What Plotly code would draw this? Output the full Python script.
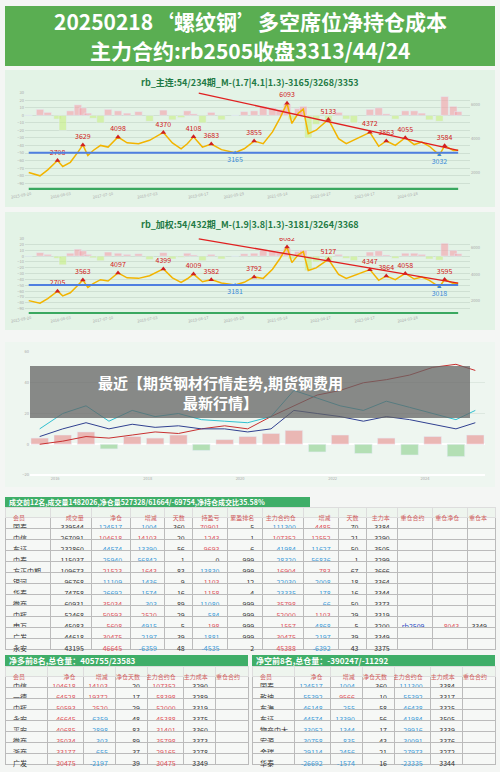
import plotly.graph_objects as go

W, H = 500, 772
def fy(px): return 1 - px / H
def fx(px): return px / W

# ---------- chart 1 data ----------
c1_dates = ["2015-09-01","2015-12-01","2016-02-01","2016-04-20","2016-06-01","2016-08-01","2016-10-01","2016-11-10","2016-12-20",
            "2017-02-01","2017-04-01","2017-06-01","2017-08-20","2017-11-01","2018-02-01","2018-05-01","2018-08-20","2018-11-01",
            "2019-01-10","2019-03-01","2019-04-20","2019-07-01","2019-09-10","2019-12-01","2020-03-20","2020-06-01","2020-08-20",
            "2020-11-01","2021-01-15","2021-03-15","2021-05-12","2021-06-20","2021-08-10","2021-09-20","2021-10-30","2022-01-01",
            "2022-04-10","2022-07-01","2022-09-01","2022-11-01","2023-03-10","2023-05-20","2023-07-20","2023-10-01","2023-12-20",
            "2024-03-01","2024-05-01","2024-07-01","2024-09-20","2024-11-01","2025-01-10","2025-02-18"]
c1_price = [2000,1800,2150,2708,2350,2600,3200,3629,3000,3300,3600,3500,4098,3750,3700,3900,4370,3750,3400,3700,4108,3500,3683,3350,3165,3400,3855,3700,4400,5200,6093,4900,5500,5750,4300,4500,
            5133,4000,3700,3900,4372,3550,3863,3600,4055,3650,3800,3550,3032,3584,3300,3313]
c1_flow = [0,8,4,-5,-20,6,14,10,3,-4,-10,8,6,3,5,-8,7,-6,-3,6,2,-10,4,-6,0,5,6,12,10,8,15,-6,9,12,-30,-12,
           -8,4,-5,-10,8,10,2,-5,6,6,3,-6,-8,25,12,5]
c1_peak_idx = [3,7,12,16,20,22,26,30,36,40,42,44,49]
c1_low_idx = [24,48]
c1_title = "rb_主连:54/234期_M-(1.7|4.1|1.3)-3165/3268/3353"
c1_xticks = ["2015-09-20","2016-08-03","2017-07-10","2018-07-03","2019-08-17","2020-05-29","2021-05-14","2022-04-27","2023-04-17","2024-03-28"]

# ---------- chart 2 data ----------
c2_price = [1980,1790,2140,2705,2340,2580,3150,3563,2980,3280,3580,3480,4097,3720,3680,3880,4399,3720,3380,3650,4009,3420,3582,3330,3181,3380,3792,3680,4380,5180,6082,4880,5480,5720,4280,4480,
            5127,3980,3680,3880,4347,3530,3864,3580,4058,3630,3780,3530,3018,3595,3290,3313]
c2_flow = [0,6,3,-4,-15,5,12,9,3,-3,-8,7,5,3,4,-6,6,-5,-2,5,2,-8,3,-5,0,4,5,10,9,7,13,-5,8,10,-25,-10,
           -7,3,-4,-8,7,9,2,-4,5,5,3,-5,-7,22,10,4]
c2_title = "rb_加权:54/432期_M-(1.9|3.8|1.3)-3181/3264/3368"

# ---------- chart 3 data ----------
c3_dates = ["2015-09","2016-03","2016-09","2017-03","2017-09","2018-03","2018-09","2019-03","2019-09","2020-03","2020-09","2021-03",
            "2021-09","2022-03","2022-09","2023-03","2023-09","2024-03","2024-09","2025-02"]
c3_red = [20,22,25,24,26,28,27,30,32,30,38,45,52,55,60,62,65,70,72,68]
c3_cyan = [30,40,45,35,42,38,40,36,35,34,38,55,50,45,42,48,44,40,36,42]
c3_navy = [25,30,34,30,33,31,32,30,30,28,30,42,40,38,35,38,36,33,30,34]
c3_bars = [4,6,8,-3,5,4,6,-4,3,5,7,9,-5,6,-6,4,-7,5,-8,6]

# ---------- tables ----------
t_cols = ["会员","成交量","净仓","增减","天数","持盈亏","累盈排名","主力合约仓","增减","天数","主力本","重仓合约","重仓净仓","重仓本"]
t_member = ["国泰","中信","东证","中泰","方正中期","银河","华泰","徽商","中辉","申万","广发","永安"]
t_vol = [339544,267091,232860,115037,109673,96768,74758,60931,52468,45083,44618,43195]
t_net = [-124517,104618,-44574,-25940,21523,-11109,-26692,35034,50593,5608,30475,46645]
t_chg = [-1004,14103,-13390,-56842,1643,-1436,-1574,-303,2520,-4915,-2197,-6359]
t_days = [360,20,56,1,83,9,16,89,29,5,39,48]
t_pnl = [70901,1243,9693,0,-13830,1103,1158,-11080,-584,198,-1881,-4535]
t_rank = [5,1,6,999,999,12,4,999,999,999,999,2]
t_main = [-111300,107352,-41984,-28320,16904,-22030,-23335,35798,52000,1557,30475,45388]
t_mchg = [4485,12552,-11627,-56836,783,-2008,-178,-66,1103,-4868,-2197,-6392]
t_mdays = [70,21,50,1,67,18,16,50,29,5,39,43]
t_cost = [3384,3290,3505,3299,3666,3364,3344,3373,3319,3200,3349,3375]
t_hc = ["","","","","","","","","","rb2509","",""]
t_hn = ["","","","","","","","","","8043","",""]
t_hb = ["","","","","","","","","","3349","",""]

l_cols = ["会员","净仓","增减","净仓天数","主力合约仓","主力成本","重仓合约"]
l_member = ["中信","一德","中辉","永安","平安","徽商","浙商","广发"]
l_net = [104618,64528,50593,46645,40685,35034,33177,30475]
l_chg = [14103,19372,2520,-6359,-2898,-303,-655,-2197]
l_days = [20,17,29,48,83,89,37,39]
l_main = [107352,58398,52000,45388,31401,35798,29165,30475]
l_cost = [3290,3289,3319,3375,3360,3373,3278,3349]

r_member = ["国泰","乾坤","东海","东证","物产中大","宏源","金瑞","华泰"]
r_net = [-124517,-55392,-46148,-44574,-33052,-30758,-29114,-26692]
r_chg = [-1004,9566,-255,-13390,-1344,-835,-2456,-1574]
r_days = [360,10,58,56,17,43,21,16]
r_main = [-111300,-55392,-46438,-41984,-29916,-30091,-27973,-23335]
r_cost = [3384,3317,3325,3505,3339,3376,3272,3344]

RED, BLUE, BLK = "#e0505a", "#3a9ad9", "#333333"
def sc(v): return RED if v > 0 else (BLUE if v < 0 else BLK)

fig = go.Figure()
shapes, ann = [], []
FONT = "Noto Sans CJK SC"

def note(x, y, text, size, color, xanchor="center"):
    ann.append(dict(x=x, y=y, xref="paper", yref="paper", text=text, showarrow=False, xanchor=xanchor,
                    yanchor="middle", font=dict(size=size, color=color, family=FONT)))

# banner
shapes.append(dict(type="rect", xref="paper", yref="paper", x0=fx(5), x1=fx(495), y0=fy(66), y1=fy(6),
                   fillcolor="#5aae52", line_width=0, layer="below"))
note(0.5, fy(21), "<b>20250218‘螺纹钢’多空席位净持仓成本</b>", 21, "white")
note(0.5, fy(50), "<b>主力合约:rb2505收盘3313/44/24</b>", 21, "white")

def price_chart(n, price, flow, title, top, bot, ptop, pbot, peaks, lows, blue_y, endtrend):
    xa, ya, yb = f"x{n}", f"y{2*n-1}", f"y{2*n}"
    shapes.append(dict(type="rect", xref="paper", yref="paper", x0=fx(5), x1=fx(495), y0=fy(bot), y1=fy(top),
                       fillcolor="#e3f3e6", line_width=0, layer="below"))
    note(0.5, fy(top + 13), "<b>" + title + "</b>", 9, "#1f7a45")
    fig.add_trace(go.Bar(x=c1_dates, y=flow, xaxis=xa, yaxis=ya, width=60*86400000,
                         marker_color=["rgba(245,160,170,0.6)" if v > 0 else "rgba(200,240,130,0.6)" for v in flow],
                         showlegend=False))
    fig.add_trace(go.Scatter(x=c1_dates, y=price, xaxis=xa, yaxis=yb, mode="lines",
                             line=dict(color="#f2b400", width=1.5), showlegend=False))
    fig.add_trace(go.Scatter(x=[c1_dates[i] for i in peaks], y=[price[i] for i in peaks], xaxis=xa, yaxis=yb,
                             mode="markers+text", marker=dict(symbol="triangle-up", size=5, color="#d02020"),
                             text=[str(price[i]) for i in peaks], textposition="top center",
                             textfont=dict(size=7, color="#d02020"), showlegend=False))
    fig.add_trace(go.Scatter(x=[c1_dates[i] for i in lows], y=[price[i] for i in lows], xaxis=xa, yaxis=yb,
                             mode="markers+text", marker=dict(symbol="triangle-up", size=4, color="#3a8ad9"),
                             text=[str(price[i]) for i in lows], textposition="bottom center",
                             textfont=dict(size=7, color="#3a8ad9"), showlegend=False))
    fig.add_trace(go.Scatter(x=[c1_dates[0], c1_dates[-1]], y=[blue_y, blue_y], xaxis=xa, yaxis=yb, mode="lines",
                             line=dict(color="#4f7fe0", width=2), showlegend=False))
    fig.add_trace(go.Scatter(x=["2019-06-01", c1_dates[-1]], y=[6700, endtrend], xaxis=xa, yaxis=yb, mode="lines",
                             line=dict(color="#e02020", width=1.3), showlegend=False))
    fig.add_trace(go.Scatter(x=[c1_dates[0], c1_dates[-1]], y=[1000, 1000], xaxis=xa, yaxis=yb, mode="lines",
                             line=dict(color="#3aa860", width=3), showlegend=False))
    dom_y = [fy(pbot), fy(ptop)]
    fig.layout[f"xaxis{n}"] = dict(domain=[fx(25), fx(470)], anchor=ya, tickvals=c1_xticks, ticktext=c1_xticks,
                                   tickfont=dict(size=4, color="#aaa"), tickangle=-10, showgrid=False, automargin=False)
    fig.layout[f"yaxis{2*n-1}"] = dict(domain=dom_y, anchor=xa, range=[-99, 31], tickfont=dict(size=4, color="#aaa"),
                                       dtick=10, gridcolor="#cfe0d3", zeroline=False, automargin=False)
    fig.layout[f"yaxis{2*n}"] = dict(domain=dom_y, anchor=xa, overlaying=ya, side="right", range=[960, 6762],
                                     tickfont=dict(size=4, color="#aaa"), showgrid=False, automargin=False)

price_chart(1, c1_price, c1_flow, c1_title, 70, 207, 92, 190, c1_peak_idx, c1_low_idx, 3165, 3313)
price_chart(2, c2_price, c2_flow, c2_title, 212, 330, 238, 314, c1_peak_idx, c1_low_idx, 3181, 3313)

# chart 3
shapes.append(dict(type="rect", xref="paper", yref="paper", x0=fx(5), x1=fx(495), y0=fy(487), y1=fy(342),
                   fillcolor="#eef6f0", line_width=0, layer="below"))
fig.add_trace(go.Bar(x=c3_dates, y=c3_bars, xaxis="x3", yaxis="y5",
                     marker_color=["rgba(230,120,120,0.5)" if v > 0 else "rgba(120,200,120,0.5)" for v in c3_bars],
                     showlegend=False))
for arr, col in [(c3_red, "#c83030"), (c3_cyan, "#30c0d0"), (c3_navy, "#304090")]:
    fig.add_trace(go.Scatter(x=c3_dates, y=arr, xaxis="x3", yaxis="y6", mode="lines",
                             line=dict(color=col, width=1), showlegend=False))
fig.layout["xaxis3"] = dict(domain=[fx(30), fx(485)], anchor="y6", tickfont=dict(size=4, color="#aaa"),
                            showgrid=False, automargin=False)
fig.layout["yaxis5"] = dict(domain=[fy(475), fy(352)], anchor="x3", range=[-20, 60], tickfont=dict(size=4, color="#aaa"),
                            gridcolor="#dde8e0", automargin=False)
fig.layout["yaxis6"] = dict(domain=[fy(475), fy(352)], anchor="x3", overlaying="y5", side="right", range=[0, 80],
                            showticklabels=False, showgrid=False, automargin=False)
shapes.append(dict(type="rect", xref="paper", yref="paper", x0=fx(30), x1=fx(470), y0=fy(418), y1=fy(366),
                   fillcolor="rgba(100,100,100,0.75)", line_width=0))
note(0.44, fy(392), "<b>最近【期货钢材行情走势,期货钢费用<br>最新行情】</b>", 15, "white")

# main table
shapes.append(dict(type="rect", xref="paper", yref="paper", x0=fx(5), x1=fx(310), y0=fy(507), y1=fy(497),
                   fillcolor="#3fae68", line_width=0))
note(fx(7), fy(502), "<b>成交前12名,成交量1482026,净仓量527328/61664/-69754,净持仓成交比35.58%</b>", 7, "white", "left")
main_vals = [t_member, t_vol, t_net, t_chg, t_days, t_pnl, t_rank, t_main, t_mchg, t_mdays, t_cost, t_hc, t_hn, t_hb]
main_colors = [[BLK]*12, [BLK]*12, [sc(v) for v in t_net], [sc(v) for v in t_chg], [BLK]*12, [sc(v) for v in t_pnl],
               [BLK]*12, [sc(v) for v in t_main], [sc(v) for v in t_mchg], [BLK]*12, [BLK]*12,
               ["#2040c0"]*12, [RED]*12, [BLK]*12]
fig.add_trace(go.Table(domain=dict(x=[fx(5), fx(495)], y=[fy(652), fy(507)]),
                       columnwidth=[1.3, 1.2, 1.1, 1, 0.8, 1, 1, 1.2, 1, 0.8, 0.9, 1, 1, 0.8],
                       header=dict(values=t_cols, align=["left"] + ["right"]*13, height=10, fill_color="#eef5ee",
                                   font=dict(size=6, color="#d06060", family=FONT), line_color="#ddd"),
                       cells=dict(values=main_vals, align=["left"] + ["right"]*13, height=11, fill_color="#f6f8f6",
                                  font=dict(size=7, color=main_colors, family=FONT), line_color="#bbb")))

def small_table(x0, x1, title, cols, members, net, chg, days, main, cost):
    shapes.append(dict(type="rect", xref="paper", yref="paper", x0=fx(x0), x1=fx(x1), y0=fy(666), y1=fy(655),
                       fillcolor="#3fae68", line_width=0))
    note(fx(x0 + 2), fy(660.5), "<b>" + title + "</b>", 8, "white", "left")
    vals = [members, net, chg, days, main, cost, [""]*8]
    colors = [[BLK]*8, [sc(v) for v in net], [sc(v) for v in chg], [BLK]*8, [sc(v) for v in main], [BLK]*8, [BLK]*8]
    fig.add_trace(go.Table(domain=dict(x=[fx(x0), fx(x1)], y=[fy(772), fy(666)]),
                           columnwidth=[1.2, 1, 0.9, 0.9, 1, 0.9, 0.9],
                           header=dict(values=cols, align=["left"] + ["right"]*6, height=10, fill_color="#eef5ee",
                                       font=dict(size=6, color="#d06060", family=FONT), line_color="#ddd"),
                           cells=dict(values=vals, align=["left"] + ["right"]*6, height=11, fill_color="#f6f8f6",
                                      font=dict(size=7, color=colors, family=FONT), line_color="#bbb")))

small_table(5, 248, "净多前8名,总仓量：405755/23583", l_cols, l_member, l_net, l_chg, l_days, l_main, l_cost)
small_table(252, 495, "净空前8名,总仓量：-390247/-11292", l_cols, r_member, r_net, r_chg, r_days, r_main, r_cost)

fig.update_layout(width=W, height=H, margin=dict(l=0, r=0, t=0, b=0, autoexpand=False), paper_bgcolor="#f4f6f4",
                  plot_bgcolor="rgba(0,0,0,0)", shapes=shapes, annotations=ann, bargap=0.1,
                  font=dict(family=FONT))
fig.write_html("out.html", config={"displayModeBar": False},
               post_script="document.body.style.margin='0';document.body.style.overflow='hidden';")
